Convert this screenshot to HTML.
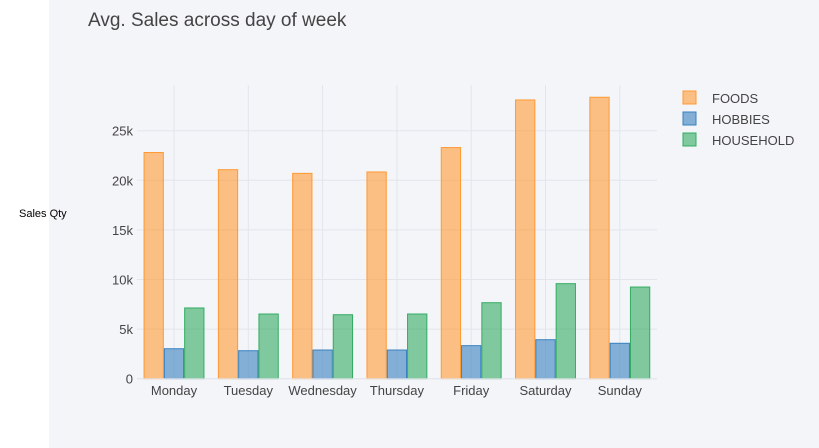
<!DOCTYPE html>
<html><head><meta charset="utf-8"><style>
body{margin:0;width:819px;height:448px;background:#fff;overflow:hidden;font-family:"Liberation Sans",sans-serif}
#bg{position:absolute;left:49px;top:0;width:770px;height:448px;background:#f4f5f9}
</style></head><body>
<div id="bg"></div>
<div style="position:absolute;left:19px;top:208px;font-size:11px;color:#000">Sales Qty</div>
<svg id="c" width="819" height="448" style="position:absolute;left:0;top:0"></svg>
<script>
const categories=["Monday","Tuesday","Wednesday","Thursday","Friday","Saturday","Sunday"];
const foods=[22800,21070,20700,20840,23300,28100,28370];
const hobbies=[3020,2820,2890,2890,3330,3930,3570];
const household=[7130,6520,6450,6520,7660,9580,9240];
const seriesNames=["FOODS","HOBBIES","HOUSEHOLD"];
const yTicks=[0,5000,10000,15000,20000,25000];
const yTickLabels=["0","5k","10k","15k","20k","25k"];
const NS="http://www.w3.org/2000/svg";
const svg=document.getElementById('c');
const y0=378.7,pxPer=49.6/5000;
const y=v=>y0-v*pxPer;
const step=74.3;
const x=i=>174+i*step;
const bw=20.3;
const fills=["rgba(255,153,51,0.6)","rgba(55,128,191,0.6)","rgba(50,171,96,0.6)"];
const strokes=["#ff9933","#3780bf","#32ab60"];
function mk(t,a){const e=document.createElementNS(NS,t);for(const k in a)e.setAttribute(k,a[k]);svg.appendChild(e);return e;}
const title=mk('text',{x:88,y:26,'font-size':19,fill:'#444'});title.textContent="Avg. Sales across day of week";


yTicks.forEach((t,i)=>{
 const g=mk('line',{x1:137,x2:657,y1:y(t),y2:y(t),stroke:'#e3e5ec','stroke-width':1});
 
 
 const l=mk('text',{x:133,y:y(t)+5,'font-size':13,fill:'#444','text-anchor':'end'});l.textContent=yTickLabels[i];
 
 
});
categories.forEach((c,i)=>{
 const g=mk('line',{x1:x(i),x2:x(i),y1:85,y2:y0,stroke:'#e3e5ec','stroke-width':1});
 
 
 const l=mk('text',{x:x(i),y:395,'font-size':13,fill:'#444','text-anchor':'middle'});l.textContent=c;
 
 
});
[foods,hobbies,household].forEach((s,si)=>{
 s.forEach((v,i)=>{
  const bx=x(i)-1.5*bw+si*bw;
  const r=mk('rect',{x:bx+0.5,y:y(v),width:bw-1,height:y0-y(v),fill:fills[si],stroke:strokes[si],'stroke-width':1});
  
  
 });
 const ly=98+si*21;
 const lr=mk('rect',{x:683,y:ly-7,width:13,height:13,fill:fills[si],stroke:strokes[si]});
 
 
 const lt=mk('text',{x:712,y:ly+5,'font-size':13,fill:'#444'});lt.textContent=seriesNames[si];
 
 
});
const ax=mk('line',{x1:137,x2:657,y1:y0,y2:y0,stroke:'#e3e5ec'});


</script>
</body></html>
